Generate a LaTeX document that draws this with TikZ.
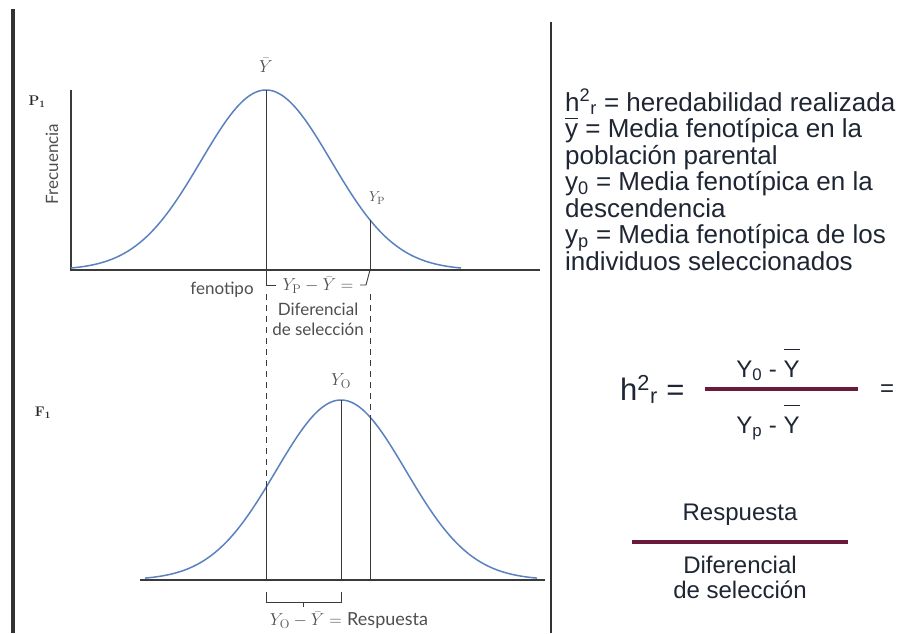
\documentclass[tikz,border=0pt]{standalone}
\usepackage{fontspec}
\newfontfamily\arialf{Liberation Sans}
\newfontfamily\labf{Lato}
\definecolor{curveblue}{HTML}{5A80C0}
\definecolor{axisgray}{HTML}{3A3A3A}
\definecolor{labgray}{HTML}{4E4E4E}
\definecolor{txtc}{HTML}{1E2633}
\definecolor{barmaroon}{HTML}{6A1B3C}
\newcommand\ovlY[2]{\ensuremath{\overline{\hbox{\rule{0pt}{#1}#2}}}}
\begin{document}
\begin{tikzpicture}[x=1pt,y=-1pt,
  axisline/.style={draw=axisgray,line width=1.3pt},
  thinline/.style={draw=axisgray,line width=0.9pt},
  dashline/.style={draw=axisgray,line width=0.9pt,dash pattern=on 6pt off 5pt},
  curveline/.style={draw=curveblue,line width=1.5pt},
  lab/.style={text=labgray,font=\labf\fontsize{17}{20}\selectfont,inner sep=0pt},
  mlab/.style={text=labgray,font=\fontsize{18}{20}\selectfont,inner sep=0pt},
  plab/.style={text=black!85,font=\bfseries\fontsize{14}{16}\selectfont,inner sep=0pt},
  deftext/.style={text=txtc,font=\arialf\fontsize{26}{28}\selectfont,anchor=base west,inner sep=0pt},
  fractext/.style={text=txtc,font=\arialf\fontsize{24}{27}\selectfont,inner sep=0pt},
  fracbar/.style={draw=barmaroon,line width=3.2pt}]
\useasboundingbox (0,0) rectangle (904,633);
% frame lines
\fill[black!80] (11,9) rectangle (15,633);
\coordinate (dtop) at (551,22);
\coordinate (dbot) at (551,633);
\draw[black!80,line width=1.8pt] (dtop) -- (dbot);

% ---------- top plot P1 ----------
\coordinate (yax1) at (71,90);
\coordinate (or1) at (71,270);
\coordinate (xend1) at (540,270);
\draw[axisline] (yax1) -- (or1) -- (xend1);
\draw[curveline] plot[domain=71:461,samples=140] (\x,{270-180*exp(-0.5*((\x-266)/65)^2)});
\coordinate (pk1) at (266,90);
\coordinate (b266) at (266,270);
\coordinate (yp1) at (370,{270-180*exp(-0.5*((370-266)/65)^2)});
\coordinate (b370) at (370,270);
\draw[thinline] (pk1) -- (b266);
\draw[thinline] (yp1) -- (b370);
\node[mlab] (ybar) at (266,65) {$\bar{Y}$};
\node[mlab,font=\fontsize{15}{17}\selectfont] (ypl) at (377,198) {$Y_{\mathrm{P}}$};
\node[plab] (p1) at (37,102) {P\textsubscript{1}};
\node[lab,rotate=90] (frec) at (52,164) {Frecuencia};
\node[lab] (feno) at (222,290) {fenotipo};
% bracket below top axis
\coordinate (bl1) at (266,285);
\coordinate (bl2) at (276,285);
\coordinate (br1) at (360,285);
\coordinate (br2) at (366,285);
\draw[thinline] (b266) -- (bl1) -- (bl2);
\draw[thinline] (br1) -- (br2) -- (b370);
\node[mlab] (dsel) at (318,285) {$Y_{\mathrm{P}} - \bar{Y} =$};
\node[lab] (dif) at (318,309) {Diferencial};
\node[lab] (dse) at (318,329) {de selección};

% ---------- bottom plot F1 ----------
\coordinate (xs2) at (140,580);
\coordinate (xe2) at (545,580);
\draw[axisline] (xs2) -- (xe2);
\draw[curveline] plot[domain=145:537,samples=140] (\x,{580-180*exp(-0.5*((\x-341)/65)^2)});
\coordinate (pk2) at (341,400);
\coordinate (q341) at (341,580);
\coordinate (c266) at (266,{580-180*exp(-0.5*((266-341)/65)^2)});
\coordinate (c370) at (370,{580-180*exp(-0.5*((370-341)/65)^2)});
\coordinate (q266) at (266,580);
\coordinate (q370) at (370,580);
\coordinate (d266) at (266,294);
\coordinate (d370) at (370,294);
\draw[thinline] (pk2) -- (q341);
\draw[dashline] (d266) -- (c266);
\draw[dashline] (d370) -- (c370);
\draw[thinline] (c266) -- (q266);
\draw[thinline] (c370) -- (q370);
\node[mlab] (yol) at (341,381) {$Y_{\mathrm{O}}$};
\node[plab] (f1) at (43,413) {F\textsubscript{1}};
% bracket below bottom axis
\coordinate (r1) at (266,592);
\coordinate (r2) at (266,602);
\coordinate (r3) at (341,602);
\coordinate (r4) at (341,592);
\coordinate (t1) at (303,602);
\coordinate (t2) at (303,607);
\draw[thinline] (r1) -- (r2) -- (r3) -- (r4);
\draw[thinline] (t1) -- (t2);
\node[mlab] (resp) at (349,620) {$Y_{\mathrm{O}} - \bar{Y} =$ {\labf Respuesta}};

% ---------- definitions ----------
\node[deftext] (l1) at (565,111) {h\textsuperscript{2}\textsubscript{r} = heredabilidad realizada};
\node[deftext] (l2) at (565,137.5) {\ovlY{0.7em}{y} = Media fenotípica en la};
\node[deftext] (l3) at (565,164) {población parental};
\node[deftext] (l4) at (565,190.5) {y\textsubscript{0} = Media fenotípica en la};
\node[deftext] (l5) at (565,217) {descendencia};
\node[deftext] (l6) at (565,243.5) {y\textsubscript{p} = Media fenotípica de los};
\node[deftext] (l7) at (565,270) {individuos seleccionados};

% ---------- formula ----------
\node[text=txtc,font=\arialf\fontsize{31}{34}\selectfont,anchor=base west,inner sep=0pt] (h2r) at (620,400) {h\textsuperscript{2}\textsubscript{r} =};
\coordinate (fb1) at (705,389);
\coordinate (fb2) at (858,389);
\draw[fracbar] (fb1) -- (fb2);
\node[fractext,anchor=base] (num) at (768,377) {Y\textsubscript{0} - \ovlY{1.12em}{Y}};
\node[fractext,anchor=base] (den) at (768,433) {Y\textsubscript{p} - \ovlY{1.12em}{Y}};
\node[fractext] (eq2) at (887,391) {=};

\node[fractext] (rsp) at (740,515) {Respuesta};
\coordinate (gb1) at (632,542);
\coordinate (gb2) at (848,542);
\draw[fracbar] (gb1) -- (gb2);
\node[fractext] (dfr) at (740,565) {Diferencial};
\node[fractext] (dsl) at (740,590) {de selección};
\end{tikzpicture}
\end{document}
